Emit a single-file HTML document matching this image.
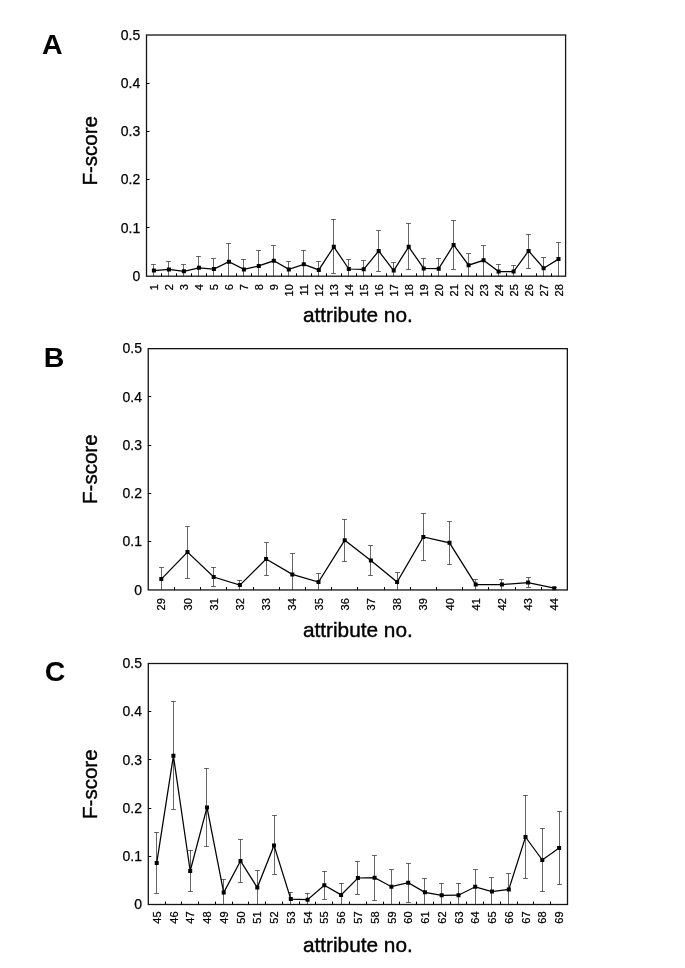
<!DOCTYPE html>
<html><head><meta charset="utf-8"><title>F-score per attribute</title>
<style>
html,body{margin:0;padding:0;background:#fff}
svg{display:block}
text.s{stroke:#000;stroke-width:0.25px}
text.m{stroke:#000;stroke-width:0.4px}
text{font-family:"Liberation Sans",Arial,Helvetica,sans-serif;fill:#000}
</style></head>
<body>
<svg width="685" height="968" viewBox="0 0 685 968">
<rect width="685" height="968" fill="#fff"/>
<g>
<path d="M153.5 264.0V276.2M151.1 264.5h4.8M168.5 261.0V276.2M166.1 261.5h4.8M183.5 264.0V276.2M181.1 264.5h4.8M198.5 256.0V276.2M196.1 256.5h4.8M213.5 258.0V276.2M211.1 258.5h4.8M228.5 243.0V276.2M226.1 243.5h4.8M243.5 259.0V276.2M241.1 259.5h4.8M258.5 250.0V276.2M256.1 250.5h4.8M273.5 245.0V276.2M271.1 245.5h4.8M288.5 261.0V276.2M286.1 261.5h4.8M303.5 250.0V276.2M301.1 250.5h4.8M318.5 261.0V276.2M316.1 261.5h4.8M333.5 219.0V274.0M331.1 219.5h4.8M331.1 273.5h4.8M348.5 259.0V276.2M346.1 259.5h4.8M363.5 260.0V276.2M361.1 260.5h4.8M378.5 230.0V272.0M376.1 230.5h4.8M376.1 271.5h4.8M393.5 262.0V276.2M391.1 262.5h4.8M408.5 223.0V270.0M406.1 223.5h4.8M406.1 269.5h4.8M423.5 258.0V276.2M421.1 258.5h4.8M438.5 258.0V276.2M436.1 258.5h4.8M453.5 220.0V270.0M451.1 220.5h4.8M451.1 269.5h4.8M468.5 253.0V276.2M466.1 253.5h4.8M483.5 245.0V276.2M481.1 245.5h4.8M498.5 264.0V276.2M496.1 264.5h4.8M513.5 265.0V276.2M511.1 265.5h4.8M528.5 234.0V269.0M526.1 234.5h4.8M526.1 268.5h4.8M543.5 257.0V276.2M541.1 257.5h4.8M558.5 242.0V276.2M556.1 242.5h4.8" fill="none" stroke="#555" stroke-width="0.9"/>
<path d="M153.9 270.6L168.9 269.4L183.9 271.3L198.9 267.8L213.9 269.0L228.9 261.8L243.9 269.4L258.8 265.9L273.8 260.8L288.8 269.4L303.8 264.3L318.8 269.9L333.8 246.8L348.8 269.0L363.7 269.3L378.7 251.0L393.7 270.6L408.7 246.8L423.7 268.4L438.7 268.7L453.6 244.9L468.6 265.2L483.6 260.3L498.6 271.5L513.6 271.5L528.6 250.9L543.6 268.2L558.5 259.1" fill="none" stroke="#000" stroke-width="1.25" stroke-linejoin="miter"/>
<path d="M151.9 268.6h4v4h-4zM166.9 267.4h4v4h-4zM181.9 269.3h4v4h-4zM196.9 265.8h4v4h-4zM211.9 267.0h4v4h-4zM226.9 259.8h4v4h-4zM241.9 267.4h4v4h-4zM256.8 263.9h4v4h-4zM271.8 258.8h4v4h-4zM286.8 267.4h4v4h-4zM301.8 262.3h4v4h-4zM316.8 267.9h4v4h-4zM331.8 244.8h4v4h-4zM346.8 267.0h4v4h-4zM361.7 267.3h4v4h-4zM376.7 249.0h4v4h-4zM391.7 268.6h4v4h-4zM406.7 244.8h4v4h-4zM421.7 266.4h4v4h-4zM436.7 266.7h4v4h-4zM451.6 242.9h4v4h-4zM466.6 263.2h4v4h-4zM481.6 258.3h4v4h-4zM496.6 269.5h4v4h-4zM511.6 269.5h4v4h-4zM526.6 248.9h4v4h-4zM541.6 266.2h4v4h-4zM556.5 257.1h4v4h-4z" fill="#000"/>
<rect x="146.5" y="35.0" width="419.1" height="241.2" fill="none" stroke="#151515" stroke-width="1.3"/>
<path d="M146.5 83.5h3.0M146.5 131.5h3.0M146.5 179.5h3.0M146.5 227.5h3.0M161.5 276.2v-2.9M176.5 276.2v-2.9M191.5 276.2v-2.9M206.5 276.2v-2.9M221.5 276.2v-2.9M236.5 276.2v-2.9M251.5 276.2v-2.9M266.5 276.2v-2.9M281.5 276.2v-2.9M296.5 276.2v-2.9M311.5 276.2v-2.9M326.5 276.2v-2.9M341.5 276.2v-2.9M356.5 276.2v-2.9M371.5 276.2v-2.9M386.5 276.2v-2.9M401.5 276.2v-2.9M416.5 276.2v-2.9M431.5 276.2v-2.9M446.5 276.2v-2.9M461.5 276.2v-2.9M476.5 276.2v-2.9M491.5 276.2v-2.9M506.5 276.2v-2.9M521.5 276.2v-2.9M536.5 276.2v-2.9M551.5 276.2v-2.9" fill="none" stroke="#000" stroke-width="1"/>
<text x="140.2" y="39.7" font-size="14" text-anchor="end" class="s">0.5</text>
<text x="140.2" y="87.9" font-size="14" text-anchor="end" class="s">0.4</text>
<text x="140.2" y="136.2" font-size="14" text-anchor="end" class="s">0.3</text>
<text x="140.2" y="184.4" font-size="14" text-anchor="end" class="s">0.2</text>
<text x="140.2" y="232.7" font-size="14" text-anchor="end" class="s">0.1</text>
<text x="140.2" y="280.9" font-size="14" text-anchor="end" class="s">0</text>
<text transform="translate(158.0 284.2) rotate(-90)" font-size="11" text-anchor="end" class="s">1</text>
<text transform="translate(173.0 284.2) rotate(-90)" font-size="11" text-anchor="end" class="s">2</text>
<text transform="translate(188.0 284.2) rotate(-90)" font-size="11" text-anchor="end" class="s">3</text>
<text transform="translate(203.0 284.2) rotate(-90)" font-size="11" text-anchor="end" class="s">4</text>
<text transform="translate(218.0 284.2) rotate(-90)" font-size="11" text-anchor="end" class="s">5</text>
<text transform="translate(233.0 284.2) rotate(-90)" font-size="11" text-anchor="end" class="s">6</text>
<text transform="translate(248.0 284.2) rotate(-90)" font-size="11" text-anchor="end" class="s">7</text>
<text transform="translate(262.9 284.2) rotate(-90)" font-size="11" text-anchor="end" class="s">8</text>
<text transform="translate(277.9 284.2) rotate(-90)" font-size="11" text-anchor="end" class="s">9</text>
<text transform="translate(292.9 284.2) rotate(-90)" font-size="11" text-anchor="end" class="s">10</text>
<text transform="translate(307.9 284.2) rotate(-90)" font-size="11" text-anchor="end" class="s">11</text>
<text transform="translate(322.9 284.2) rotate(-90)" font-size="11" text-anchor="end" class="s">12</text>
<text transform="translate(337.9 284.2) rotate(-90)" font-size="11" text-anchor="end" class="s">13</text>
<text transform="translate(352.9 284.2) rotate(-90)" font-size="11" text-anchor="end" class="s">14</text>
<text transform="translate(367.8 284.2) rotate(-90)" font-size="11" text-anchor="end" class="s">15</text>
<text transform="translate(382.8 284.2) rotate(-90)" font-size="11" text-anchor="end" class="s">16</text>
<text transform="translate(397.8 284.2) rotate(-90)" font-size="11" text-anchor="end" class="s">17</text>
<text transform="translate(412.8 284.2) rotate(-90)" font-size="11" text-anchor="end" class="s">18</text>
<text transform="translate(427.8 284.2) rotate(-90)" font-size="11" text-anchor="end" class="s">19</text>
<text transform="translate(442.8 284.2) rotate(-90)" font-size="11" text-anchor="end" class="s">20</text>
<text transform="translate(457.8 284.2) rotate(-90)" font-size="11" text-anchor="end" class="s">21</text>
<text transform="translate(472.7 284.2) rotate(-90)" font-size="11" text-anchor="end" class="s">22</text>
<text transform="translate(487.7 284.2) rotate(-90)" font-size="11" text-anchor="end" class="s">23</text>
<text transform="translate(502.7 284.2) rotate(-90)" font-size="11" text-anchor="end" class="s">24</text>
<text transform="translate(517.7 284.2) rotate(-90)" font-size="11" text-anchor="end" class="s">25</text>
<text transform="translate(532.7 284.2) rotate(-90)" font-size="11" text-anchor="end" class="s">26</text>
<text transform="translate(547.7 284.2) rotate(-90)" font-size="11" text-anchor="end" class="s">27</text>
<text transform="translate(562.6 284.2) rotate(-90)" font-size="11" text-anchor="end" class="s">28</text>
<text x="41.9" y="54.3" font-size="28.5" font-weight="bold">A</text>
<text transform="translate(96.5 185.5) rotate(-90)" font-size="20.5" class="m">F-score</text>
<text x="302.9" y="321.9" font-size="20.8" class="m">attribute no.</text>
</g>
<g>
<path d="M161.5 567.0V590.0M159.1 567.5h4.8M187.5 526.0V579.0M185.1 526.5h4.8M185.1 578.5h4.8M213.5 567.0V587.0M211.1 567.5h4.8M211.1 586.5h4.8M239.5 580.0V590.0M237.1 580.5h4.8M266.5 542.0V576.0M264.1 542.5h4.8M264.1 575.5h4.8M292.5 553.0V590.0M290.1 553.5h4.8M318.5 573.0V590.0M316.1 573.5h4.8M344.5 519.0V562.0M342.1 519.5h4.8M342.1 561.5h4.8M370.5 545.0V576.0M368.1 545.5h4.8M368.1 575.5h4.8M397.5 572.0V590.0M395.1 572.5h4.8M423.5 513.0V561.0M421.1 513.5h4.8M421.1 560.5h4.8M449.5 521.0V565.0M447.1 521.5h4.8M447.1 564.5h4.8M475.5 579.0V590.0M473.1 579.5h4.8M501.5 579.0V590.0M499.1 579.5h4.8M528.5 577.0V588.0M526.1 577.5h4.8M526.1 587.5h4.8M554.5 587.0V590.0M552.1 587.5h4.8" fill="none" stroke="#555" stroke-width="0.9"/>
<path d="M161.3 579.1L187.5 552.1L213.7 577.0L239.9 585.1L266.1 559.0L292.3 574.4L318.5 582.1L344.7 540.2L370.9 560.6L397.1 582.1L423.3 536.9L449.5 542.8L475.7 584.5L501.9 584.5L528.1 582.6L554.3 588.2" fill="none" stroke="#000" stroke-width="1.25" stroke-linejoin="miter"/>
<path d="M159.3 577.1h4v4h-4zM185.5 550.1h4v4h-4zM211.7 575.0h4v4h-4zM237.9 583.1h4v4h-4zM264.1 557.0h4v4h-4zM290.3 572.4h4v4h-4zM316.5 580.1h4v4h-4zM342.7 538.2h4v4h-4zM368.9 558.6h4v4h-4zM395.1 580.1h4v4h-4zM421.3 534.9h4v4h-4zM447.5 540.8h4v4h-4zM473.7 582.5h4v4h-4zM499.9 582.5h4v4h-4zM526.1 580.6h4v4h-4zM552.3 586.2h4v4h-4z" fill="#000"/>
<rect x="148.25" y="348.65" width="419.1" height="241.3" fill="none" stroke="#151515" stroke-width="1.3"/>
<path d="M148.25 396.5h3.0M148.25 445.5h3.0M148.25 493.5h3.0M148.25 541.5h3.0M174.5 589.95v-2.9M200.5 589.95v-2.9M226.5 589.95v-2.9M253.5 589.95v-2.9M279.5 589.95v-2.9M305.5 589.95v-2.9M331.5 589.95v-2.9M357.5 589.95v-2.9M384.5 589.95v-2.9M410.5 589.95v-2.9M436.5 589.95v-2.9M462.5 589.95v-2.9M488.5 589.95v-2.9M515.5 589.95v-2.9M541.5 589.95v-2.9" fill="none" stroke="#000" stroke-width="1"/>
<text x="142.0" y="353.3" font-size="14" text-anchor="end" class="s">0.5</text>
<text x="142.0" y="401.6" font-size="14" text-anchor="end" class="s">0.4</text>
<text x="142.0" y="449.9" font-size="14" text-anchor="end" class="s">0.3</text>
<text x="142.0" y="498.1" font-size="14" text-anchor="end" class="s">0.2</text>
<text x="142.0" y="546.4" font-size="14" text-anchor="end" class="s">0.1</text>
<text x="142.0" y="594.7" font-size="14" text-anchor="end" class="s">0</text>
<text transform="translate(165.4 598.2) rotate(-90)" font-size="11" text-anchor="end" class="s">29</text>
<text transform="translate(191.6 598.2) rotate(-90)" font-size="11" text-anchor="end" class="s">30</text>
<text transform="translate(217.8 598.2) rotate(-90)" font-size="11" text-anchor="end" class="s">31</text>
<text transform="translate(244.0 598.2) rotate(-90)" font-size="11" text-anchor="end" class="s">32</text>
<text transform="translate(270.2 598.2) rotate(-90)" font-size="11" text-anchor="end" class="s">33</text>
<text transform="translate(296.4 598.2) rotate(-90)" font-size="11" text-anchor="end" class="s">34</text>
<text transform="translate(322.6 598.2) rotate(-90)" font-size="11" text-anchor="end" class="s">35</text>
<text transform="translate(348.8 598.2) rotate(-90)" font-size="11" text-anchor="end" class="s">36</text>
<text transform="translate(375.0 598.2) rotate(-90)" font-size="11" text-anchor="end" class="s">37</text>
<text transform="translate(401.2 598.2) rotate(-90)" font-size="11" text-anchor="end" class="s">38</text>
<text transform="translate(427.4 598.2) rotate(-90)" font-size="11" text-anchor="end" class="s">39</text>
<text transform="translate(453.6 598.2) rotate(-90)" font-size="11" text-anchor="end" class="s">40</text>
<text transform="translate(479.8 598.2) rotate(-90)" font-size="11" text-anchor="end" class="s">41</text>
<text transform="translate(506.0 598.2) rotate(-90)" font-size="11" text-anchor="end" class="s">42</text>
<text transform="translate(532.2 598.2) rotate(-90)" font-size="11" text-anchor="end" class="s">43</text>
<text transform="translate(558.4 598.2) rotate(-90)" font-size="11" text-anchor="end" class="s">44</text>
<text x="43.7" y="367.2" font-size="28.5" font-weight="bold">B</text>
<text transform="translate(96.5 503.9) rotate(-90)" font-size="20.5" class="m">F-score</text>
<text x="302.9" y="636.6" font-size="20.8" class="m">attribute no.</text>
</g>
<g>
<path d="M156.5 832.0V894.0M154.1 832.5h4.8M154.1 893.5h4.8M173.5 701.0V810.0M171.1 701.5h4.8M171.1 809.5h4.8M190.5 850.0V892.0M188.1 850.5h4.8M188.1 891.5h4.8M206.5 768.0V847.0M204.1 768.5h4.8M204.1 846.5h4.8M223.5 879.0V904.5M221.1 879.5h4.8M240.5 839.0V883.0M238.1 839.5h4.8M238.1 882.5h4.8M257.5 870.0V904.5M255.1 870.5h4.8M274.5 815.0V875.0M272.1 815.5h4.8M272.1 874.5h4.8M290.5 892.0V904.5M288.1 892.5h4.8M307.5 893.0V904.5M305.1 893.5h4.8M324.5 871.0V900.0M322.1 871.5h4.8M322.1 899.5h4.8M341.5 883.0V904.5M339.1 883.5h4.8M357.5 861.0V895.0M355.1 861.5h4.8M355.1 894.5h4.8M374.5 855.0V901.0M372.1 855.5h4.8M372.1 900.5h4.8M391.5 869.0V904.5M389.1 869.5h4.8M408.5 863.0V903.0M406.1 863.5h4.8M406.1 902.5h4.8M424.5 878.0V904.5M422.1 878.5h4.8M441.5 883.0V904.5M439.1 883.5h4.8M458.5 883.0V904.5M456.1 883.5h4.8M475.5 869.0V904.5M473.1 869.5h4.8M491.5 877.0V904.5M489.1 877.5h4.8M508.5 873.0V904.5M506.1 873.5h4.8M525.5 795.0V879.0M523.1 795.5h4.8M523.1 878.5h4.8M542.5 828.0V892.0M540.1 828.5h4.8M540.1 891.5h4.8M559.5 811.0V885.0M557.1 811.5h4.8M557.1 884.5h4.8" fill="none" stroke="#555" stroke-width="0.9"/>
<path d="M156.7 863.1L173.4 755.8L190.2 871.0L207.0 807.4L223.7 892.6L240.5 861.0L257.3 887.6L274.0 845.4L290.8 899.1L307.6 899.7L324.3 885.3L341.1 894.9L357.9 878.0L374.6 877.7L391.4 886.7L408.2 882.7L424.9 892.3L441.7 895.3L458.5 895.2L475.2 886.8L492.0 891.5L508.8 889.4L525.5 837.0L542.3 860.0L559.1 848.1" fill="none" stroke="#000" stroke-width="1.25" stroke-linejoin="miter"/>
<path d="M154.7 861.1h4v4h-4zM171.4 753.8h4v4h-4zM188.2 869.0h4v4h-4zM205.0 805.4h4v4h-4zM221.7 890.6h4v4h-4zM238.5 859.0h4v4h-4zM255.3 885.6h4v4h-4zM272.0 843.4h4v4h-4zM288.8 897.1h4v4h-4zM305.6 897.7h4v4h-4zM322.3 883.3h4v4h-4zM339.1 892.9h4v4h-4zM355.9 876.0h4v4h-4zM372.6 875.7h4v4h-4zM389.4 884.7h4v4h-4zM406.2 880.7h4v4h-4zM422.9 890.3h4v4h-4zM439.7 893.3h4v4h-4zM456.5 893.2h4v4h-4zM473.2 884.8h4v4h-4zM490.0 889.5h4v4h-4zM506.8 887.4h4v4h-4zM523.5 835.0h4v4h-4zM540.3 858.0h4v4h-4zM557.1 846.1h4v4h-4z" fill="#000"/>
<rect x="148.3" y="663.5" width="419.2" height="241.0" fill="none" stroke="#151515" stroke-width="1.3"/>
<path d="M148.3 711.5h3.0M148.3 759.5h3.0M148.3 808.5h3.0M148.3 856.5h3.0M165.5 904.55v-2.9M181.5 904.55v-2.9M198.5 904.55v-2.9M215.5 904.55v-2.9M232.5 904.55v-2.9M248.5 904.55v-2.9M265.5 904.55v-2.9M282.5 904.55v-2.9M299.5 904.55v-2.9M315.5 904.55v-2.9M332.5 904.55v-2.9M349.5 904.55v-2.9M366.5 904.55v-2.9M383.5 904.55v-2.9M399.5 904.55v-2.9M416.5 904.55v-2.9M433.5 904.55v-2.9M450.5 904.55v-2.9M466.5 904.55v-2.9M483.5 904.55v-2.9M500.5 904.55v-2.9M517.5 904.55v-2.9M533.5 904.55v-2.9M550.5 904.55v-2.9" fill="none" stroke="#000" stroke-width="1"/>
<text x="142.0" y="668.2" font-size="14" text-anchor="end" class="s">0.5</text>
<text x="142.0" y="716.4" font-size="14" text-anchor="end" class="s">0.4</text>
<text x="142.0" y="764.6" font-size="14" text-anchor="end" class="s">0.3</text>
<text x="142.0" y="812.8" font-size="14" text-anchor="end" class="s">0.2</text>
<text x="142.0" y="861.0" font-size="14" text-anchor="end" class="s">0.1</text>
<text x="142.0" y="909.2" font-size="14" text-anchor="end" class="s">0</text>
<text transform="translate(160.8 911.4) rotate(-90)" font-size="11" text-anchor="end" class="s">45</text>
<text transform="translate(177.5 911.4) rotate(-90)" font-size="11" text-anchor="end" class="s">46</text>
<text transform="translate(194.3 911.4) rotate(-90)" font-size="11" text-anchor="end" class="s">47</text>
<text transform="translate(211.1 911.4) rotate(-90)" font-size="11" text-anchor="end" class="s">48</text>
<text transform="translate(227.8 911.4) rotate(-90)" font-size="11" text-anchor="end" class="s">49</text>
<text transform="translate(244.6 911.4) rotate(-90)" font-size="11" text-anchor="end" class="s">50</text>
<text transform="translate(261.4 911.4) rotate(-90)" font-size="11" text-anchor="end" class="s">51</text>
<text transform="translate(278.1 911.4) rotate(-90)" font-size="11" text-anchor="end" class="s">52</text>
<text transform="translate(294.9 911.4) rotate(-90)" font-size="11" text-anchor="end" class="s">53</text>
<text transform="translate(311.7 911.4) rotate(-90)" font-size="11" text-anchor="end" class="s">54</text>
<text transform="translate(328.4 911.4) rotate(-90)" font-size="11" text-anchor="end" class="s">55</text>
<text transform="translate(345.2 911.4) rotate(-90)" font-size="11" text-anchor="end" class="s">56</text>
<text transform="translate(362.0 911.4) rotate(-90)" font-size="11" text-anchor="end" class="s">57</text>
<text transform="translate(378.7 911.4) rotate(-90)" font-size="11" text-anchor="end" class="s">58</text>
<text transform="translate(395.5 911.4) rotate(-90)" font-size="11" text-anchor="end" class="s">59</text>
<text transform="translate(412.3 911.4) rotate(-90)" font-size="11" text-anchor="end" class="s">60</text>
<text transform="translate(429.0 911.4) rotate(-90)" font-size="11" text-anchor="end" class="s">61</text>
<text transform="translate(445.8 911.4) rotate(-90)" font-size="11" text-anchor="end" class="s">62</text>
<text transform="translate(462.6 911.4) rotate(-90)" font-size="11" text-anchor="end" class="s">63</text>
<text transform="translate(479.3 911.4) rotate(-90)" font-size="11" text-anchor="end" class="s">64</text>
<text transform="translate(496.1 911.4) rotate(-90)" font-size="11" text-anchor="end" class="s">65</text>
<text transform="translate(512.9 911.4) rotate(-90)" font-size="11" text-anchor="end" class="s">66</text>
<text transform="translate(529.6 911.4) rotate(-90)" font-size="11" text-anchor="end" class="s">67</text>
<text transform="translate(546.4 911.4) rotate(-90)" font-size="11" text-anchor="end" class="s">68</text>
<text transform="translate(563.2 911.4) rotate(-90)" font-size="11" text-anchor="end" class="s">69</text>
<text x="44.8" y="680.7" font-size="28.5" font-weight="bold">C</text>
<text transform="translate(96.5 818.9) rotate(-90)" font-size="20.5" class="m">F-score</text>
<text x="302.9" y="952.2" font-size="20.8" class="m">attribute no.</text>
</g>
</svg>
</body></html>
